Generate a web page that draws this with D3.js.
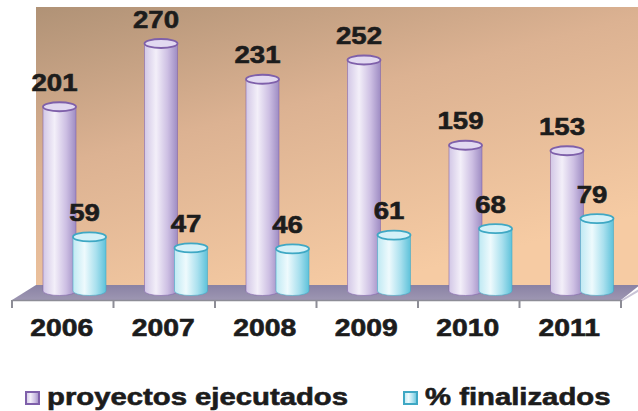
<!DOCTYPE html>
<html>
<head>
<meta charset="utf-8">
<script src="https://cdn.jsdelivr.net/npm/d3@7"></script>
<style>
  html, body { margin: 0; padding: 0; background: #fff; }
  #chart { width: 638px; height: 411px; }
  text { font-family: "Liberation Sans", Arial, sans-serif; font-weight: bold; fill: #1c1c1c; stroke: #1c1c1c; stroke-width: 0.6px; }
</style>
</head>
<body>
<div id="chart"></div>
<script>
const years = ["2006", "2007", "2008", "2009", "2010", "2011"];
const series = ["proyectos ejecutados", "% finalizados"];
const ejecutados = [201, 270, 231, 252, 159, 153];
const finalizados = [59, 47, 46, 61, 68, 79];
const seriesValues = [ejecutados, finalizados];

const width = 638, height = 411;

const svg = d3.select("#chart").append("svg")
  .attr("width", width)
  .attr("height", height);

const defs = svg.append("defs");

// back wall gradient
const wallGrad = defs.append("linearGradient")
  .attr("id", "wall")
  .attr("x1", "0").attr("y1", "0").attr("x2", "0.55").attr("y2", "1");
wallGrad.append("stop").attr("offset", "0").attr("stop-color", "#b09276");
wallGrad.append("stop").attr("offset", "0.45").attr("stop-color", "#dcb292");
wallGrad.append("stop").attr("offset", "1").attr("stop-color", "#f6cba3");

const floorGrad = defs.append("linearGradient")
  .attr("id", "floor")
  .attr("x1", "0").attr("y1", "0").attr("x2", "0").attr("y2", "1");
floorGrad.append("stop").attr("offset", "0").attr("stop-color", "#8a82a4");
floorGrad.append("stop").attr("offset", "1").attr("stop-color", "#9d96b2");

const palettes = [
  { id: "cylP", stroke: "#7f60aa", top: "#e2d9f1",
    stops: [["0", "#d2c7e6"], ["0.35", "#f3eff9"], ["0.7", "#cdbfe3"], ["1", "#9e8cc3"]] },
  { id: "cylC", stroke: "#3fa8c4", top: "#d4f1f8",
    stops: [["0", "#bfe9f3"], ["0.35", "#eefafd"], ["0.7", "#a9e0ee"], ["1", "#5ec2da"]] }
];
palettes.forEach(p => {
  const g = defs.append("linearGradient").attr("id", p.id)
    .attr("x1", "0").attr("y1", "0").attr("x2", "1").attr("y2", "0");
  p.stops.forEach(s => g.append("stop").attr("offset", s[0]).attr("stop-color", s[1]));
});

// scales
const x = d3.scaleBand().domain(years).range([12, 621]).padding(0);
const xs = d3.scaleBand().domain(series).range([31, 91]).padding(0);
const y = d3.scaleLinear().domain([0, 300]).range([291, 16]);

const depthX = 24, depthY = 15;
const floorY = 300;

// wall
svg.append("rect")
  .attr("x", 12 + depthX).attr("y", 7)
  .attr("width", width - 12 - depthX).attr("height", floorY - depthY - 7)
  .attr("fill", "url(#wall)");

// floor
svg.append("path")
  .attr("d", `M12,${floorY} L${12 + depthX},${floorY - depthY} L${width + 2},${floorY - depthY} L621,${floorY} Z`)
  .attr("fill", "url(#floor)");
svg.append("path")
  .attr("d", `M621,${floorY} L${621 + depthX},${floorY - depthY} L${621 + depthX},${floorY - depthY + 3} L621,${floorY + 2} Z`)
  .attr("fill", "#c9c4d6");

// axis
const xAxis = d3.axisBottom(x).tickSize(0).tickFormat("");
const axisG = svg.append("g")
  .attr("transform", `translate(0,${floorY})`)
  .call(xAxis);
axisG.select(".domain").attr("stroke", "#8d8d96").attr("stroke-width", 1.5);
axisG.selectAll(".boundary")
  .data(d3.range(years.length + 1))
  .join("line")
  .attr("x1", i => 12 + i * x.step()).attr("x2", i => 12 + i * x.step())
  .attr("y1", 0).attr("y2", 8)
  .attr("stroke", "#8d8d96").attr("stroke-width", 2);

// cylinders
const rx = 16.5, ry = 4.5;
const bars = [];
years.forEach((yr, i) => {
  series.forEach((s, k) => {
    bars.push({ year: yr, series: k, value: seriesValues[k][i] });
  });
});

const cyl = svg.append("g").selectAll("g")
  .data(bars)
  .join("g");

cyl.append("path")
  .attr("d", d => {
    const cx = x(d.year) + xs(series[d.series]) + rx;
    const top = y(d.value), bot = y(0);
    return `M${cx - rx},${top} L${cx - rx},${bot} A${rx},${ry} 0 0 0 ${cx + rx},${bot} L${cx + rx},${top} Z`;
  })
  .attr("fill", d => `url(#${palettes[d.series].id})`)
  .attr("stroke", d => palettes[d.series].stroke)
  .attr("stroke-opacity", 0.55)
  .attr("stroke-width", 1);

cyl.append("ellipse")
  .attr("cx", d => x(d.year) + xs(series[d.series]) + rx)
  .attr("cy", d => y(d.value))
  .attr("rx", rx).attr("ry", ry)
  .attr("fill", d => palettes[d.series].top)
  .attr("stroke", d => palettes[d.series].stroke)
  .attr("stroke-width", 1.8);

// value labels
cyl.append("text")
  .attr("transform", d => {
    const cx = x(d.year) + xs(series[d.series]) + rx - 5;
    return `translate(${cx},${y(d.value) - 16}) scale(1.15,1)`;
  })
  .attr("text-anchor", "middle")
  .style("font-size", "24px")
  .text(d => d.value);

// year labels
svg.append("g").selectAll("text")
  .data(years)
  .join("text")
  .attr("transform", d => `translate(${x(d) + x.bandwidth() / 2 - 1},336) scale(1.18,1)`)
  .attr("text-anchor", "middle")
  .style("font-size", "24px")
  .text(d => d);

// legend
const legendX = [25, 403];
const leg = svg.append("g").selectAll("g")
  .data(series)
  .join("g")
  .attr("transform", (d, i) => `translate(${legendX[i]},391)`);
leg.append("rect")
  .attr("x", 1).attr("y", 1).attr("width", 13).attr("height", 12)
  .attr("fill", (d, i) => `url(#${palettes[i].id})`)
  .attr("stroke", (d, i) => palettes[i].stroke)
  .attr("stroke-width", 2);
leg.append("text")
  .attr("transform", "translate(22,14) scale(1.22,1)")
  .style("font-size", "24px")
  .text(d => d);
</script>
</body>
</html>
